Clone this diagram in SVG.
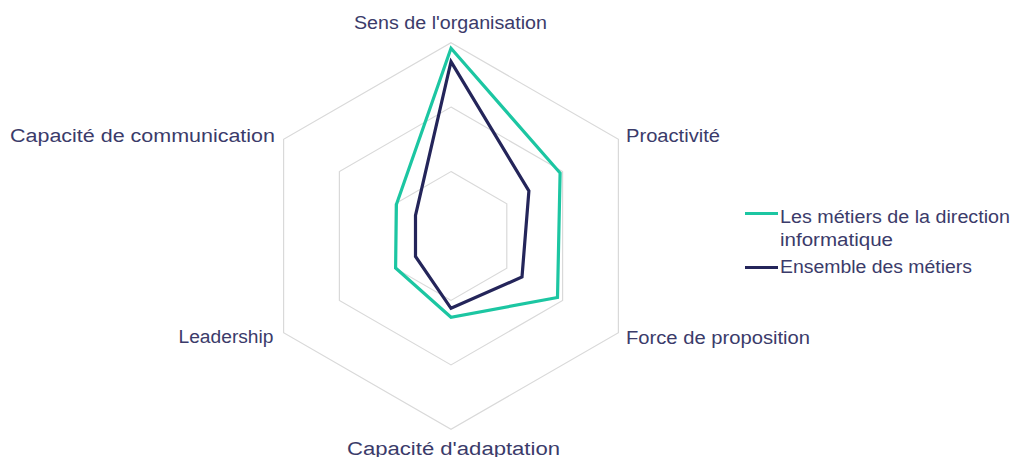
<svg xmlns="http://www.w3.org/2000/svg" width="1014" height="457" viewBox="0 0 1014 457">
<style>
.grid{fill:none;stroke:#d9d9d9;stroke-width:1.2}
.s{fill:none;stroke-width:3.2;stroke-linejoin:miter}
.g{stroke:#1cc6a2}
.d{stroke:#24255a}
text{font-family:"Liberation Sans",Arial,sans-serif;font-size:18px;fill:#3b3b6a}
</style>
<rect width="1014" height="457" fill="#ffffff"/>
<g id="grid">
<polygon class="grid" points="451,42.7 618.4,139.35 618.4,332.65 451,429.3 283.6,332.65 283.6,139.35"/>
<polygon class="grid" points="451,107.1 562.6,171.55 562.6,300.45 451,364.9 339.4,300.45 339.4,171.55"/>
<polygon class="grid" points="451,171.6 506.8,203.8 506.8,268.2 451,300.4 395.2,268.2 395.2,203.8"/>
</g>
<g id="series">
<polygon id="ensemble" class="s d" points="451,61.7 528.9,191 522,277 451,308.3 415.5,256.5 415.5,215.5"/>
<polygon id="direction-informatique" class="s g" points="451,48.3 560.1,173 557.5,297.5 451,317.3 395.6,268 396.4,204.5"/>
</g>
<g id="labels">
<text x="354" y="29" textLength="193" lengthAdjust="spacingAndGlyphs">Sens de l'organisation</text>
<text x="626" y="141.5" textLength="94" lengthAdjust="spacingAndGlyphs">Proactivité</text>
<text x="626" y="344" textLength="184" lengthAdjust="spacingAndGlyphs">Force de proposition</text>
<text x="347" y="455" textLength="213" lengthAdjust="spacingAndGlyphs">Capacité d'adaptation</text>
<text x="178.5" y="343" textLength="95" lengthAdjust="spacingAndGlyphs">Leadership</text>
<text x="10" y="141.5" textLength="265" lengthAdjust="spacingAndGlyphs">Capacité de communication</text>
</g>
<g id="legend">
<line x1="745" y1="213.5" x2="778" y2="213.5" class="s g"/>
<text x="780" y="223" textLength="230" lengthAdjust="spacingAndGlyphs">Les métiers de la direction</text>
<text x="780" y="246" textLength="113" lengthAdjust="spacingAndGlyphs">informatique</text>
<line x1="745" y1="267.5" x2="778" y2="267.5" class="s d"/>
<text x="780" y="273" textLength="192" lengthAdjust="spacingAndGlyphs">Ensemble des métiers</text>
</g>
</svg>
